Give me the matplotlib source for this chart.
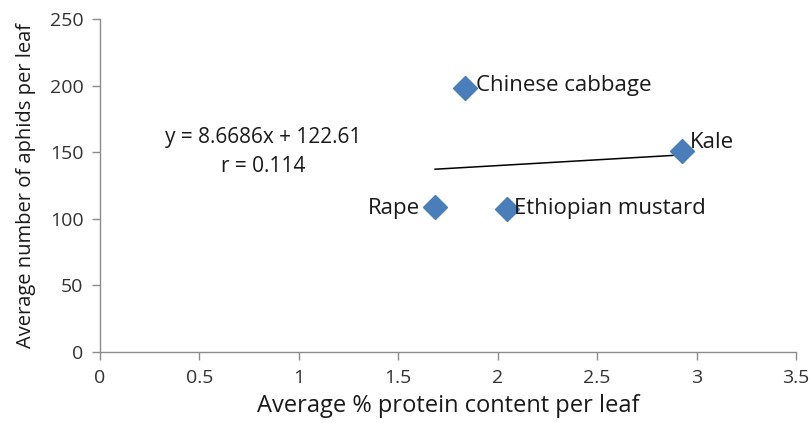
import matplotlib

matplotlib.use("Agg")
import matplotlib.pyplot as plt  # noqa: E402
import numpy as np

# data
crops = ["Chinese cabbage", "Kale", "Rape", "Ethiopian mustard"]
protein = [1.835, 2.925, 1.685, 2.045]
aphids = [198.0, 151.0, 109.0, 107.5]
slope, intercept = 8.6686, 122.61
r_value = 0.114

# label offsets (points) and alignment per crop
label_offsets = [(8, 2), (6, 6), (-11, -1), (5, 0)]
label_ha = ["left", "left", "right", "left"]

plt.rcParams["font.family"] = ["Open Sans", "DejaVu Sans"]

fig = plt.figure(figsize=(8.09, 4.23), dpi=100)
ax = fig.add_axes([0.1236, 0.168, 0.8604, 0.787])

ax.plot(protein, aphids, linestyle="none", marker="D", markersize=12,
        color="#4a7ebb", zorder=3)

xs = np.array([min(protein), max(protein)])
ax.plot(xs, slope * xs + intercept, color="black", linewidth=1.1, zorder=2)

for name, x, y, off, ha in zip(crops, protein, aphids, label_offsets, label_ha):
    ax.annotate(name, xy=(x, y), xytext=off, textcoords="offset points",
                ha=ha, va="center", fontsize=16, color="#1a1a1a")

ax.text(0.82, 161, f"y = {slope}x + {intercept}", ha="center", va="center",
        fontsize=15, color="#1a1a1a")
ax.text(0.82, 139, f"r = {r_value}", ha="center", va="center",
        fontsize=15, color="#1a1a1a")

ax.set_xlim(0, 3.5)
ax.set_ylim(0, 250)
ax.set_xticks(np.arange(0, 3.51, 0.5))
ax.set_xticklabels(["0", "0.5", "1", "1.5", "2", "2.5", "3", "3.5"])
ax.set_yticks(np.arange(0, 251, 50))

for side in ["top", "right"]:
    ax.spines[side].set_visible(False)
for side in ["left", "bottom"]:
    ax.spines[side].set_color("#8c8c8c")
    ax.spines[side].set_linewidth(1.0)
ax.tick_params(axis="both", colors="#8c8c8c", length=6, width=1.0,
               labelsize=14, labelcolor="#333333", pad=6)

ax.set_xlabel("Average % protein content per leaf", fontsize=17,
              color="#1a1a1a", labelpad=5)
ax.set_ylabel("Average number of aphids per leaf", fontsize=14.5,
              color="#1a1a1a", labelpad=10)

fig.savefig("out.png", dpi=100)
plt.close(fig)
